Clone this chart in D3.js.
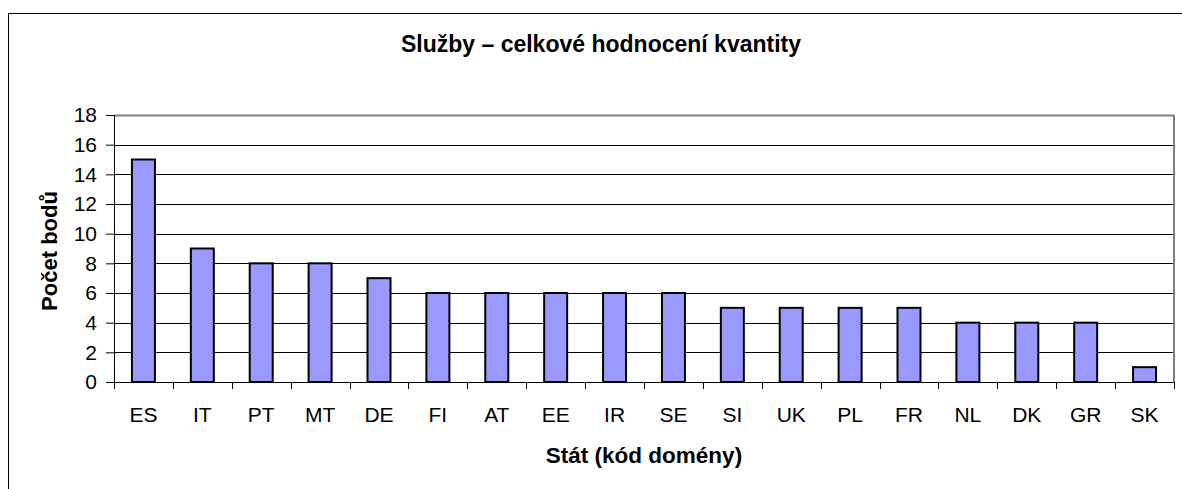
<!DOCTYPE html>
<html>
<head>
<meta charset="utf-8">
<script src="https://cdn.jsdelivr.net/npm/d3@7"></script>
<style>
  body { margin: 0; background: #fff; }
  text { font-family: "Liberation Sans", Arial, sans-serif; }
</style>
</head>
<body>
<svg id="chart" width="1182" height="489"></svg>
<script>
var countries = ["ES", "IT", "PT", "MT", "DE", "FI", "AT", "EE", "IR", "SE", "SI", "UK", "PL", "FR", "NL", "DK", "GR", "SK"];
var points = [15, 9, 8, 8, 7, 6, 6, 6, 6, 6, 5, 5, 5, 5, 4, 4, 4, 1];
var yTicks = [0, 2, 4, 6, 8, 10, 12, 14, 16, 18];

var svg = d3.select("#chart"),
    margin = {top: 115, right: 8, bottom: 107, left: 114},
    width = 1182 - margin.left - margin.right,
    height = 489 - margin.top - margin.bottom;

// outer frame (runs off the right / bottom edge)
svg.append("rect")
    .attr("x", 8.5).attr("y", 13.5)
    .attr("width", 1190).attr("height", 500)
    .attr("fill", "none").attr("stroke", "#000").attr("stroke-width", 1);

svg.append("text")
    .attr("x", 601).attr("y", 52)
    .attr("text-anchor", "middle")
    .style("font-size", "23px").style("font-weight", "bold")
    .text("Služby – celkové hodnocení kvantity");

var g = svg.append("g").attr("transform", "translate(" + margin.left + "," + margin.top + ")");

var x = d3.scaleBand().domain(countries).range([0, width]);
var y = d3.scaleLinear().domain([0, 18]).range([height, 0]);

// grid lines
g.selectAll(".grid")
    .data(yTicks.filter(function(d) { return d > 0; }))
    .enter().append("line")
    .attr("x1", 0).attr("x2", width)
    .attr("y1", function(d) { return Math.round(y(d)) + 0.5; })
    .attr("y2", function(d) { return Math.round(y(d)) + 0.5; })
    .attr("stroke", function(d) { return d === 18 ? "#808080" : "#000"; })
    .attr("stroke-width", function(d) { return d === 18 ? 2 : 1; });

// right border of plot area
g.append("line")
    .attr("x1", width).attr("x2", width)
    .attr("y1", 0).attr("y2", height)
    .attr("stroke", "#808080").attr("stroke-width", 2);

var bw = 23;
g.selectAll(".bar")
    .data(points)
    .enter().append("rect")
    .attr("x", function(d, i) { return x(countries[i]) + x.bandwidth() / 2 - bw / 2; })
    .attr("y", function(d) { return y(d); })
    .attr("width", bw)
    .attr("height", function(d) { return height - y(d); })
    .attr("fill", "#9999FF")
    .attr("stroke", "#000")
    .attr("stroke-width", 2);

// y axis
var yAxis = g.append("g")
    .call(d3.axisLeft(y).tickValues(yTicks).tickSize(8).tickPadding(9));
yAxis.select(".domain").attr("stroke", "#000");
yAxis.selectAll("text").style("font-size", "21px").attr("fill", "#000");

// x axis: ticks between categories
var xg = g.append("g").attr("transform", "translate(0," + height + ")");
xg.append("line").attr("x1", 0).attr("x2", width).attr("y1", 0.5).attr("y2", 0.5).attr("stroke", "#000");
xg.selectAll(".xt")
    .data(countries.concat(["end"]))
    .enter().append("line")
    .attr("x1", function(d, i) { return Math.round(i * x.bandwidth()) + 0.5; })
    .attr("x2", function(d, i) { return Math.round(i * x.bandwidth()) + 0.5; })
    .attr("y1", 0).attr("y2", 7)
    .attr("stroke", "#000");
xg.selectAll(".xl")
    .data(countries)
    .enter().append("text")
    .attr("x", function(d) { return x(d) + x.bandwidth() / 2; })
    .attr("y", 40)
    .attr("text-anchor", "middle")
    .style("font-size", "21px")
    .text(function(d) { return d; });

svg.append("text")
    .attr("x", margin.left + width / 2).attr("y", 463)
    .attr("text-anchor", "middle")
    .style("font-size", "22.5px").style("font-weight", "bold")
    .text("Stát (kód domény)");

svg.append("text")
    .attr("transform", "translate(57,251) rotate(-90)")
    .attr("text-anchor", "middle")
    .style("font-size", "22px").style("font-weight", "bold")
    .text("Počet bodů");
</script>
</body>
</html>
